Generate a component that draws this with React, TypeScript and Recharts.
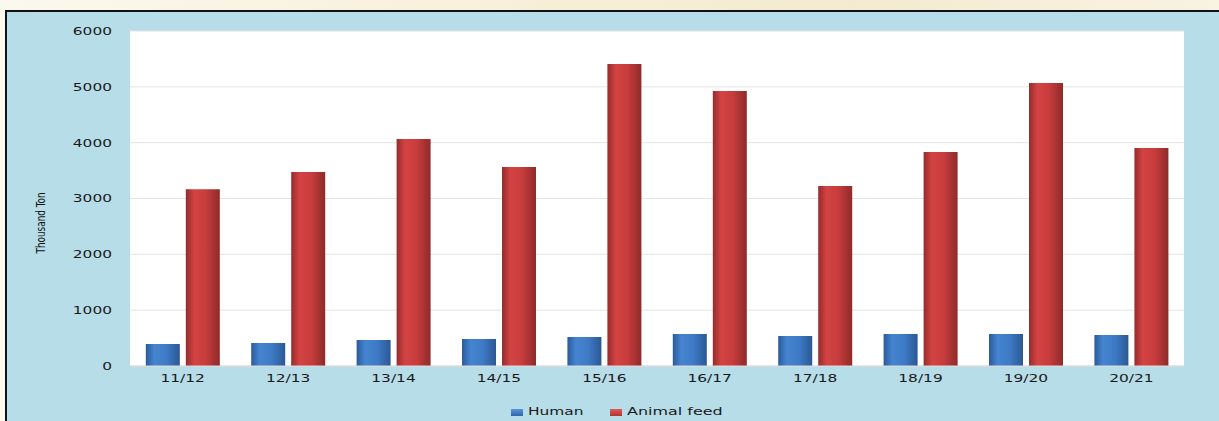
import React from "react";
import { BarChart, Bar, XAxis, YAxis, CartesianGrid } from "recharts";

const categories = ["11/12", "12/13", "13/14", "14/15", "15/16", "16/17", "17/18", "18/19", "19/20", "20/21"];
const humanValues = [395, 412, 466, 484, 520, 573, 537, 573, 573, 555];
const animalFeedValues = [3165, 3475, 4066, 3564, 5409, 4925, 3224, 3833, 5069, 3905];
const yTicks = [0, 1000, 2000, 3000, 4000, 5000, 6000];

const data = categories.map((c, i) => ({
  name: c,
  human: humanValues[i],
  feed: animalFeedValues[i],
}));

const FONT = "'DejaVu Sans', Verdana, sans-serif";

const XTick = (props: any) => {
  const { x, y, payload } = props;
  return (
    <g transform={`translate(${x},${y}) scale(1.4,1)`}>
      <text x={0} y={0} dy="0.71em" textAnchor="middle" fontFamily={FONT} fontSize={11} fill="#1a1a1a">
        {payload.value}
      </text>
    </g>
  );
};

const YTick = (props: any) => {
  const { x, y, payload } = props;
  return (
    <g transform={`translate(${x},${y}) scale(1.4,1)`}>
      <text x={0} y={0} dy="0.355em" textAnchor="end" fontFamily={FONT} fontSize={11} fill="#1a1a1a">
        {payload.value}
      </text>
    </g>
  );
};

const YLabel = () => (
  <g transform="translate(45,223) rotate(-90) scale(0.76,1)">
    <text x={0} y={0} textAnchor="middle" fontFamily="'DejaVu Sans Condensed', 'Liberation Sans Narrow', 'Liberation Sans', sans-serif" fontSize={13} fill="#111" style={{ fontSize: 13 }}>
      Thousand Ton
    </text>
  </g>
);

export default function App() {
  return (
    <div
      style={{
        position: "absolute",
        left: 0,
        top: 0,
        width: 1219,
        height: 421,
        overflow: "hidden",
        background: "linear-gradient(90deg, #fbf8ee 0%, #f7f0da 40%, #f3ead0 70%, #f8f3e2 100%)",
      }}
    >
      <div
        style={{
          position: "absolute",
          left: 5,
          top: 10,
          width: 1214,
          height: 411,
          boxSizing: "border-box",
          borderTop: "2px solid #111",
          borderLeft: "2px solid #111",
          background: "#b7dde8",
        }}
      />
      <div style={{ position: "absolute", left: 0, top: 0 }}>
        <BarChart
          width={1219}
          height={421}
          data={data}
          margin={{ top: 31, right: 35, bottom: 25, left: 0 }}
          barCategoryGap="15%"
          barGap={6}
        >
          <defs>
            <linearGradient id="gBlue" x1="0" y1="0" x2="1" y2="0">
              <stop offset="0%" stopColor="#2a5a9a" />
              <stop offset="25%" stopColor="#4584d0" />
              <stop offset="60%" stopColor="#3e7bc6" />
              <stop offset="100%" stopColor="#2b5894" />
            </linearGradient>
            <linearGradient id="gRed" x1="0" y1="0" x2="1" y2="0">
              <stop offset="0%" stopColor="#952c2c" />
              <stop offset="25%" stopColor="#d44343" />
              <stop offset="60%" stopColor="#c63c3c" />
              <stop offset="100%" stopColor="#8f2a2a" />
            </linearGradient>
          </defs>
          <CartesianGrid vertical={false} stroke="#e4e4e4" fill="#ffffff" />
          <XAxis
            dataKey="name"
            axisLine={{ stroke: "#d9d9d9" }}
            tickLine={false}
            tickSize={6}
            tickMargin={2}
            tick={<XTick />}
            interval={0}
          />
          <YAxis
            width={130}
            domain={[0, 6000]}
            ticks={yTicks}
            axisLine={false}
            tickLine={false}
            tickSize={6}
            tickMargin={12}
            tick={<YTick />}
            label={<YLabel />}
          />
          <Bar dataKey="human" name="Human" fill="url(#gBlue)" isAnimationActive={false} />
          <Bar dataKey="feed" name="Animal feed" fill="url(#gRed)" isAnimationActive={false} />
        </BarChart>
      </div>
      <div
        style={{
          position: "absolute",
          top: 405,
          left: 511,
          display: "flex",
          alignItems: "center",
          fontFamily: FONT,
          fontSize: 11,
          color: "#1a1a1a",
          lineHeight: "14px",
        }}
      >
        <span style={{ display: "inline-block", width: 12, height: 7, background: "linear-gradient(180deg,#5b95da,#2f64a8)" }} />
        <span style={{ display: "inline-block", width: 41, marginLeft: 5, marginRight: 41, transform: "scaleX(1.4)", transformOrigin: "left center", whiteSpace: "nowrap" }}>
          Human
        </span>
        <span style={{ display: "inline-block", width: 12, height: 7, background: "linear-gradient(180deg,#e05a5a,#b03434)" }} />
        <span style={{ display: "inline-block", marginLeft: 5, transform: "scaleX(1.45)", transformOrigin: "left center", whiteSpace: "nowrap" }}>
          Animal feed
        </span>
      </div>
    </div>
  );
}
